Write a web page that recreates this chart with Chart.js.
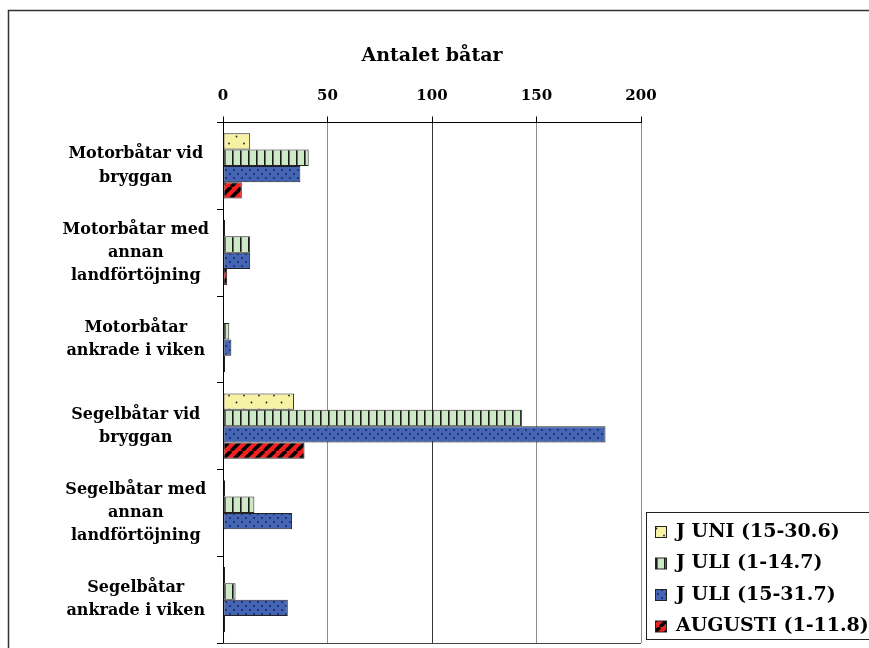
<!DOCTYPE html>
<html>
<head>
<meta charset="utf-8">
<script src="https://cdn.jsdelivr.net/npm/chart.js@4.4.1/dist/chart.umd.min.js"></script>
<style>
  body { margin: 0; background: #fff; }
  #wrap { width: 869px; height: 648px; }
</style>
</head>
<body>
<div id="wrap"><canvas id="chart" width="869" height="648"></canvas></div>
<script>
// Data
const categories = [
    ['Motorbåtar vid', 'bryggan'],
    ['Motorbåtar med', 'annan', 'landförtöjning'],
    ['Motorbåtar', 'ankrade i viken'],
    ['Segelbåtar vid', 'bryggan'],
    ['Segelbåtar med', 'annan', 'landförtöjning'],
    ['Segelbåtar', 'ankrade i viken']
];
const seriesNames = ['J UNI (15-30.6)', 'J ULI (1-14.7)', 'J ULI (15-31.7)', 'AUGUSTI (1-11.8)'];
const juni = [13, 1, 0, 34, 1, 1];
const juli1 = [41, 13, 3, 143, 15, 6];
const juli2 = [37, 13, 4, 183, 33, 31];
const augusti = [9, 2, 1, 39, 0, 1];
const xTicks = [0, 50, 100, 150, 200];

const FONT = '"DejaVu Serif", serif';
const canvas = document.getElementById('chart');
const ctx = canvas.getContext('2d');

// Fyllnadsmönster för staplarna
function makePattern(w, h, bg, draw) {
    const c = document.createElement('canvas');
    c.width = w;
    c.height = h;
    const g = c.getContext('2d');
    g.fillStyle = bg;
    g.fillRect(0, 0, w, h);
    draw(g);
    return ctx.createPattern(c, 'repeat');
}
function dot(g, x, y, r, color) {
    g.fillStyle = color;
    g.beginPath();
    g.arc(x, y, r, 0, Math.PI * 2);
    g.fill();
}

const yellowDots = makePattern(15, 14, '#f6f1a3', g => {
    dot(g, 4, 3.5, 0.9, '#222');
    dot(g, 11.5, 10.5, 0.9, '#222');
});
const greenStripes = makePattern(8, 8, '#cde9c6', g => {
    g.fillStyle = '#1a1a1a';
    g.fillRect(0, 0, 1.6, 8);
});
const blueDots = makePattern(8, 8, '#4465b5', g => {
    dot(g, 2, 2, 0.9, '#16204a');
    dot(g, 6, 6, 0.9, '#16204a');
});
const redStripes = makePattern(11, 11, '#ee2222', g => {
    g.strokeStyle = '#000';
    g.lineWidth = 3.5;
    for (const o of [-11, 0, 11]) {
        g.beginPath();
        g.moveTo(o, 11);
        g.lineTo(o + 11, 0);
        g.stroke();
    }
});
const fills = [yellowDots, greenStripes, blueDots, redStripes];

// Ram, nedre kant och förklaring
const decorations = {
    id: 'decorations',
    afterDraw(chart) {
        const c = chart.ctx;
        const area = chart.chartArea;
        c.save();
        // yttre ram
        c.strokeStyle = '#333';
        c.lineWidth = 1.5;
        c.beginPath();
        c.moveTo(8.5, 648);
        c.lineTo(8.5, 10.5);
        c.lineTo(869, 10.5);
        c.stroke();
        // nedre kant av ritytan
        c.strokeStyle = '#444';
        c.lineWidth = 1;
        c.beginPath();
        c.moveTo(area.left, Math.round(area.bottom) + 0.5);
        c.lineTo(area.right, Math.round(area.bottom) + 0.5);
        c.stroke();
        // förklaring
        const lx = 646.5, ly = 512.5;
        c.strokeStyle = '#222';
        c.lineWidth = 1;
        c.strokeRect(lx, ly, 300, 127);
        c.font = 'bold 19px ' + FONT;
        c.textBaseline = 'middle';
        chart.data.datasets.forEach((ds, i) => {
            const cy = 532 + i * 31.5;
            c.fillStyle = ds.backgroundColor;
            c.fillRect(655, cy - 5.5, 11, 11);
            c.strokeStyle = '#222';
            c.strokeRect(655.5, cy - 5.5, 11, 11);
            c.fillStyle = '#000';
            c.fillText(ds.label, 676, cy);
        });
        c.restore();
    }
};

const seriesData = [juni, juli1, juli2, augusti];

new Chart(ctx, {
    type: 'bar',
    data: {
        labels: categories,
        datasets: seriesNames.map((name, i) => ({
            label: name,
            data: seriesData[i],
            backgroundColor: fills[i],
            borderColor: '#222',
            borderWidth: c => (c.raw === 0 ? 0 : 1),
            borderSkipped: false,
            categoryPercentage: 0.75,
            barPercentage: 1
        }))
    },
    options: {
        indexAxis: 'y',
        responsive: false,
        animation: false,
        layout: { padding: { top: 40, left: 10, right: 228, bottom: 5 } },
        plugins: {
            legend: { display: false },
            tooltip: { enabled: false }
        },
        scales: {
            x: {
                position: 'top',
                min: 0,
                max: 200,
                afterBuildTicks: s => { s.ticks = xTicks.map(v => ({ value: v })); },
                afterFit: s => { s.height = 82.5; s.paddingLeft = 0; s.paddingRight = 0; },
                title: {
                    display: true,
                    text: 'Antalet båtar',
                    color: '#000',
                    font: { family: FONT, size: 19, weight: 'bold' },
                    padding: { top: 5, bottom: 0 }
                },
                ticks: {
                    color: '#000',
                    font: { family: FONT, size: 15, weight: 'bold' },
                    padding: 11
                },
                grid: {
                    color: c => (c.tick && c.tick.value === 100 ? '#333' : '#8c8c8c'),
                    tickColor: '#000',
                    tickLength: 6
                },
                border: { display: true, color: '#000', width: 1 }
            },
            y: {
                afterFit: s => { s.width = 213; s.paddingTop = 0; s.paddingBottom = 0; },
                ticks: {
                    color: '#000',
                    crossAlign: 'center',
                    font: { family: FONT, size: 16, weight: 'bold', lineHeight: 1.45 },
                    padding: 8
                },
                grid: {
                    drawOnChartArea: false,
                    tickColor: '#000',
                    tickLength: 6
                },
                border: { display: true, color: '#000', width: 1 }
            }
        }
    },
    plugins: [decorations]
});
</script>
</body>
</html>
